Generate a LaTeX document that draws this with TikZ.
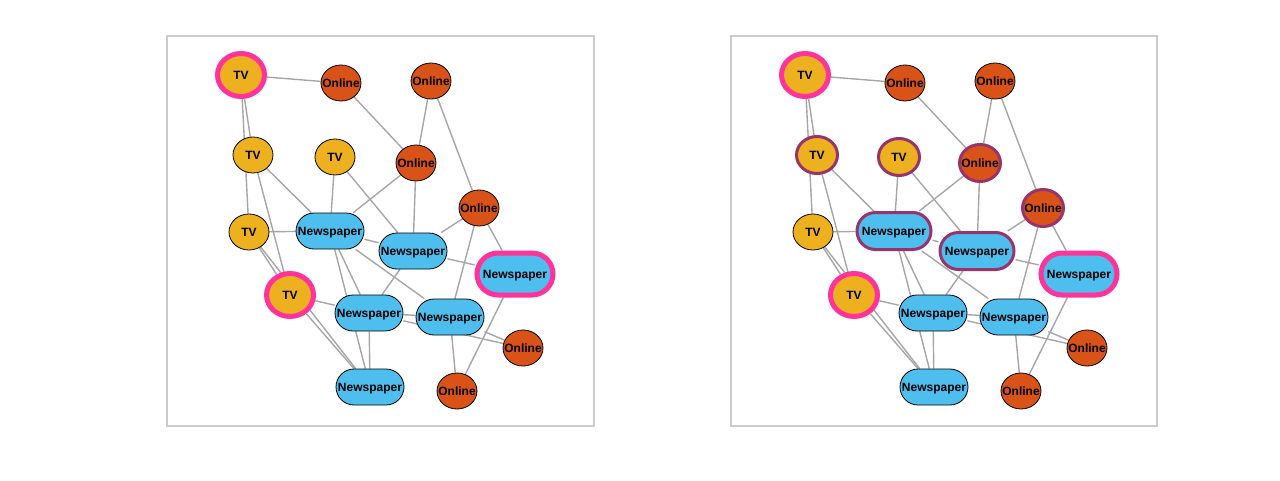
\documentclass[tikz,border=0pt]{standalone}
\usepackage{fontspec}
\setmainfont{Liberation Sans}
\usetikzlibrary{shapes.geometric}
\pgfdeclarelayer{bg}
\pgfsetlayers{bg,main}
\definecolor{tvc}{HTML}{EDB120}
\definecolor{onc}{HTML}{D95319}
\definecolor{npc}{HTML}{4DBEEE}
\definecolor{pinkc}{HTML}{FF3399}
\definecolor{purc}{HTML}{99336B}
\definecolor{edgec}{HTML}{A6A6A6}
\definecolor{boxc}{HTML}{CCCCCC}
\newcommand\lbl[1]{\makebox[0pt]{#1}}
\tikzset{
  base/.style={draw=black, line width=0.8, inner sep=0pt, text=black,
    text height=8.6, text depth=0,
    font=\fontsize{12}{12}\selectfont\bfseries},
  tv/.style={base, ellipse, fill=tvc, minimum width=40, minimum height=36},
  on/.style={base, ellipse, fill=onc, minimum width=40, minimum height=36},
  np/.style={base, rectangle, rounded corners=18, fill=npc, minimum width=68, minimum height=36},
  pinkE/.style={draw=pinkc, line width=5, minimum width=47, minimum height=43},
  pinkR/.style={draw=pinkc, line width=5, minimum width=76, minimum height=42, rounded corners=21},
  edge/.style={draw=edgec, line width=1.4},
  panelbox/.style={draw=boxc, line width=1.3},
}
\newcommand\graphpanel[1]{%
  \node[tv,pinkE] (#1t1) at (241,75) {\lbl{TV}};
  \node[on] (#1o1) at (341,83) {\lbl{Online}};
  \node[on] (#1o2) at (431,81) {\lbl{Online}};
  \node[tv,purE] (#1t2) at (253,155) {\lbl{TV}};
  \node[tv,purE] (#1t3) at (335,157) {\lbl{TV}};
  \node[on,purE] (#1o3) at (416,163) {\lbl{Online}};
  \node[on,purE] (#1o4) at (479,208) {\lbl{Online}};
  \node[tv] (#1t4) at (249,232) {\lbl{TV}};
  \node[np,purR] (#1n1) at (330,231) {\lbl{Newspaper}};
  \node[np,purR] (#1n2) at (413,251) {\lbl{Newspaper}};
  \node[np,pinkR] (#1n3) at (515,274) {\lbl{Newspaper}};
  \node[tv,pinkE] (#1t5) at (290,295) {\lbl{TV}};
  \node[np] (#1n4) at (369,313) {\lbl{Newspaper}};
  \node[np] (#1n5) at (450,317) {\lbl{Newspaper}};
  \node[on] (#1o5) at (523,348) {\lbl{Online}};
  \node[np] (#1n6) at (370,387) {\lbl{Newspaper}};
  \node[on] (#1o6) at (457,391) {\lbl{Online}};
  \begin{pgfonlayer}{bg}
    \foreach \a/\b in {t1/o1, t1/t2, t1/t4, t2/t5, t2/n1, t3/n1, t3/n2,
      o1/o3, o2/o3, o2/o4, o3/n1, o3/n2, o4/n2, o4/n5, o4/n3,
      t4/n1, t4/t5, t4/n6, t5/n6, t5/n4, n1/n2, n1/n4, n1/n6, n1/n5,
      n2/n3, n2/n4, n4/n5, n4/n6, n4/o5, n5/o5, n5/o6, n3/o6}
      \draw[edge] (#1\a) -- (#1\b);
  \end{pgfonlayer}
}
\begin{document}
\begin{tikzpicture}[x=1pt, y=-1pt]
  \useasboundingbox (0,0) rectangle (1280,480);
  \draw[panelbox] (167,36) rectangle (594,426);
  \draw[panelbox] (731,36) rectangle (1157,426);
  \begin{scope}[purE/.style={}, purR/.style={}]
    \graphpanel{L}
  \end{scope}
  \begin{scope}[xshift=564pt,
      purE/.style={draw=purc, line width=3, minimum width=41, minimum height=37},
      purR/.style={draw=purc, line width=3, minimum width=74, minimum height=37, rounded corners=18.5}]
    \graphpanel{R}
  \end{scope}
\end{tikzpicture}
\end{document}
